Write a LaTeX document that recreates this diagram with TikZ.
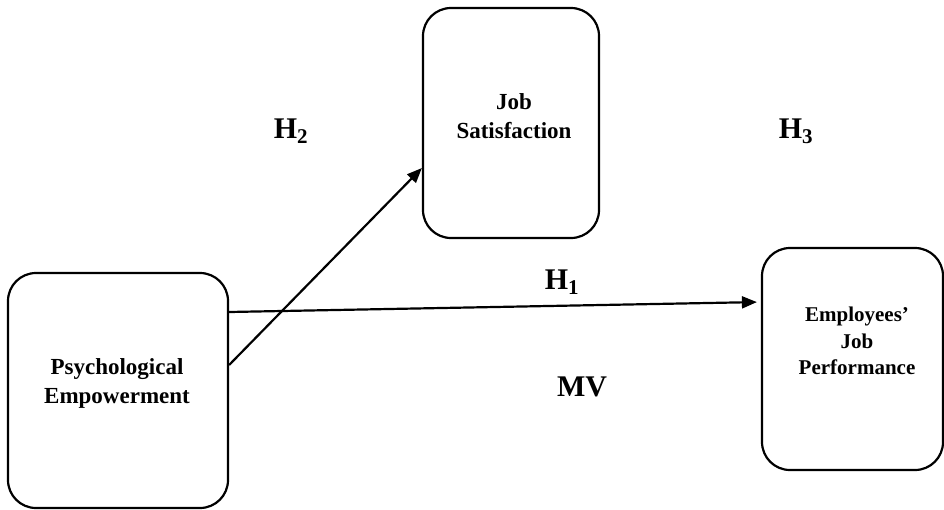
\documentclass[tikz,border=0pt]{standalone}
\usepackage{fontspec}
\setmainfont{Liberation Serif}
\usetikzlibrary{arrows.meta}

\begin{document}
\begin{tikzpicture}[x=1pt,y=-1pt]
	\tikzstyle{construct} = [rectangle, draw, line width=2.2pt, rounded corners=28pt]
	\tikzstyle{construct_text} = [align=center, inner sep=0pt, font=\bfseries\fontsize{23}{29}\selectfont]
	\tikzstyle{hyp} = [inner sep=0pt, font=\bfseries\fontsize{30}{36}\selectfont]
	\tikzstyle{edge} = [line width=2.2pt, -{Triangle[length=15pt,width=12pt]}]

	\useasboundingbox (0,0) rectangle (944,509);

	% constructs
	\node[construct, minimum width=220pt, minimum height=235pt] (pe) at (118,390.5) {};
	\node[construct, minimum width=176pt, minimum height=230pt] (js) at (511,123) {};
	\node[construct, minimum width=181pt, minimum height=222pt] (ejp) at (852.5,359) {};

	\node[construct_text] (pe_text) at (117,383) {Psychological\\Empowerment};
	\node[construct_text] (js_text) at (514,116) {Job\\Satisfaction};
	\node[construct_text, font=\bfseries\fontsize{21}{26.5}\selectfont] (ejp_text) at (857,341) {Employees'\\Job\\Performance};

	%paths
	\draw[edge] ([yshift=25.5pt]pe.east) -- ([yshift=-45pt]js.west);
	\draw[edge, shorten >=4pt] ([yshift=78.5pt]pe.east) -- ([yshift=57pt]ejp.west);

	%hypotheses
	\foreach \name/\x/\y/\txt in {h2/291/131/H\textsubscript{2}, h3/796/131/H\textsubscript{3}, h1/562/282/H\textsubscript{1}, mv/582/387/MV}
		\node[hyp] (\name) at (\x,\y) {\txt};

\end{tikzpicture}
\end{document}
